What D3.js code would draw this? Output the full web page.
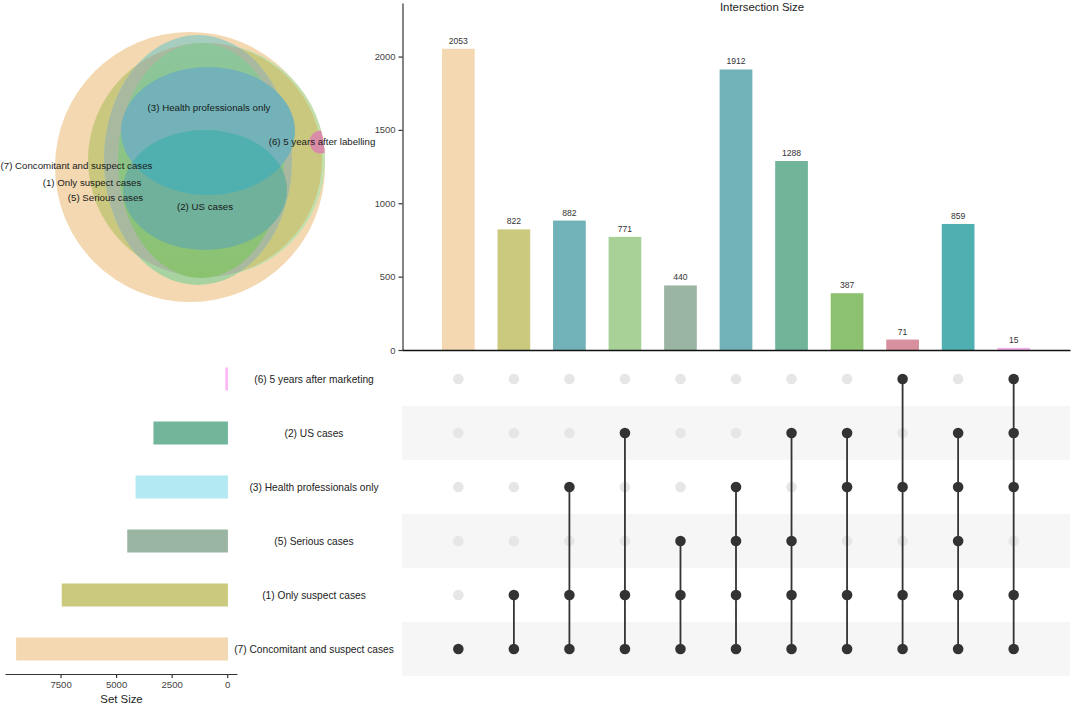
<!DOCTYPE html>
<html>
<head>
<meta charset="utf-8">
<script src="https://cdn.jsdelivr.net/npm/d3@7"></script>
<style>
  html, body { margin: 0; padding: 0; background: #fff; }
  svg { display: block; font-family: "Liberation Sans", Arial, sans-serif; }
</style>
</head>
<body>
<svg id="chart" width="1072" height="706"></svg>
<script>
// ---------------- DATA ----------------
const setKeys   = ["6", "2", "3", "5", "1", "7"];
const setNames  = ["(6) 5 years after marketing", "(2) US cases", "(3) Health professionals only",
                   "(5) Serious cases", "(1) Only suspect cases", "(7) Concomitant and suspect cases"];
const setSizes  = [86, 3320, 4126, 4499, 7447, 9500];
const setColors = ["#ffb6f5", "#71b59b", "#b3eaf2", "#9bb5a3", "#cac97e", "#f3d8b1"];

const intersectionSets = [
  ["7"], ["1","7"], ["3","1","7"], ["2","1","7"], ["5","1","7"], ["3","5","1","7"],
  ["2","5","1","7"], ["2","3","1","7"], ["6","3","1","7"], ["2","3","5","1","7"], ["6","2","3","1","7"]
];
const intersectionSizes  = [2053, 822, 882, 771, 440, 1912, 1288, 387, 71, 859, 15];
const intersectionColors = ["#f3d8b1", "#cac97e", "#70b2b7", "#a8d197", "#9bb5a3", "#70b2b7",
                            "#70b49a", "#8cc26f", "#d9909e", "#50b0b1", "#f5b3ef"];

const yTicks   = [0, 500, 1000, 1500, 2000];
const setTicks = [0, 2500, 5000, 7500];

// Euler diagram labels
const vennLabels = ["(3) Health professionals only", "(6) 5 years after labelling",
                    "(7) Concomitant and suspect cases", "(1) Only suspect cases",
                    "(5) Serious cases", "(2) US cases"];

// ---------------- LAYOUT ----------------
const svg = d3.select("#chart");
const FONT = '"Liberation Sans", Arial, sans-serif';
const fmt = d3.format("d");

// --- Intersection bars
const x = d3.scaleBand().domain(d3.range(intersectionSizes.length))
  .range([402, 1070]).paddingInner(0.411).paddingOuter(0.72);
const y = d3.scaleLinear().domain([0, 2365]).range([350, 3]);

// --- Matrix rows
const row = d3.scaleBand().domain(setKeys).range([352, 676]);

// stripes
svg.append("g").selectAll("rect").data(setKeys.filter((d, i) => i % 2 === 1)).join("rect")
  .attr("x", 402).attr("width", 668)
  .attr("y", d => row(d)).attr("height", row.bandwidth())
  .attr("fill", "#f6f6f6");

const bars = svg.append("g");
bars.selectAll("rect").data(intersectionSizes).join("rect")
  .attr("x", (d, i) => x(i)).attr("width", x.bandwidth())
  .attr("y", d => y(d)).attr("height", d => y(0) - y(d))
  .attr("fill", (d, i) => intersectionColors[i]);
bars.selectAll("text").data(intersectionSizes).join("text")
  .attr("x", (d, i) => x(i) + x.bandwidth() / 2)
  .attr("y", d => y(d) - 5)
  .attr("text-anchor", "middle")
  .attr("font-size", 8.6).attr("fill", "#333")
  .text(d => d);

const yAxis = svg.append("g").attr("transform", "translate(402.5,0)")
  .call(d3.axisLeft(y).tickValues(yTicks).tickFormat(fmt).tickSize(4).tickSizeOuter(0).tickPadding(3));
yAxis.selectAll("text").attr("font-size", 9.4).attr("fill", "#444").attr("font-family", FONT);
yAxis.selectAll("path, line").attr("stroke", "#333").attr("stroke-width", 1.2);

const xAxis = svg.append("g").attr("transform", "translate(0,350)")
  .call(d3.axisBottom(x).tickSize(0).tickSizeOuter(0).tickFormat(""));
xAxis.select("path").attr("stroke", "#111").attr("stroke-width", 1.7);

svg.append("text").attr("x", 762).attr("y", 11)
  .attr("text-anchor", "middle").attr("font-size", 11.4).attr("fill", "#222")
  .text("Intersection Size");

// --- Matrix dots & lines
const mat = svg.append("g");
const gOff = mat.append("g"), gLine = mat.append("g"), gOn = mat.append("g");
intersectionSets.forEach((members, i) => {
  const cx = x(i) + x.bandwidth() / 2;
  const ys = members.map(k => row(k) + row.bandwidth() / 2);
  gLine.append("line")
    .attr("x1", cx).attr("x2", cx)
    .attr("y1", d3.min(ys)).attr("y2", d3.max(ys))
    .attr("stroke", "#333").attr("stroke-width", 1.8);
  setKeys.forEach(k => {
    const on = members.includes(k);
    (on ? gOn : gOff).append("circle")
      .attr("cx", cx).attr("cy", row(k) + row.bandwidth() / 2)
      .attr("r", 5.3)
      .attr("fill", on ? "#333" : "#e6e6e6");
  });
});

// --- Set size bars
const sx = d3.scaleLinear().domain([10000, -440]).range([5, 237]);
const barH = 23;
svg.append("g").selectAll("rect").data(setSizes).join("rect")
  .attr("x", d => sx(d)).attr("width", d => sx(0) - sx(d) + 0.7)
  .attr("y", (d, i) => row(setKeys[i]) + row.bandwidth() / 2 - barH / 2)
  .attr("height", barH)
  .attr("fill", (d, i) => setColors[i]);

const sAxis = svg.append("g").attr("transform", "translate(0,674)")
  .call(d3.axisBottom(sx).tickValues(setTicks).tickFormat(fmt).tickSize(4).tickSizeOuter(0).tickPadding(3));
sAxis.selectAll("text").attr("font-size", 9.6).attr("fill", "#444").attr("font-family", FONT);
sAxis.selectAll("path, line").attr("stroke", "#333").attr("stroke-width", 1.2);

svg.append("text").attr("x", 121.5).attr("y", 703)
  .attr("text-anchor", "middle").attr("font-size", 11.4).attr("fill", "#222")
  .text("Set Size");

// set labels
svg.append("g").selectAll("text").data(setNames).join("text")
  .attr("x", 314).attr("y", (d, i) => row(setKeys[i]) + row.bandwidth() / 2)
  .attr("dy", "0.35em")
  .attr("text-anchor", "middle").attr("font-size", 10.2).attr("fill", "#222")
  .text(d => d);

// --- Euler diagram (layout of shapes)
const defs = svg.append("defs");
const venn = svg.append("g");
const shapes = {
  O: {cx: 190, cy: 167, rx: 135, ry: 135},   // (7)
  H: {cx: 208, cy: 160, rx: 117, ry: 117},
  L: {cx: 205, cy: 160, rx: 117, ry: 117},   // (1)
  E: {cx: 198, cy: 160, rx: 94,  ry: 125},
  F: {cx: 201, cy: 160.5, rx: 83, ry: 117.5},
  B: {cx: 208, cy: 131, rx: 87,  ry: 64},    // (3)
  G: {cx: 205, cy: 190, rx: 82,  ry: 60},    // (2)
  P: {cx: 321, cy: 142, rx: 11.5, ry: 11.5}  // (6)
};
function ell(sel, s) {
  return sel.append("ellipse").attr("cx", s.cx).attr("cy", s.cy).attr("rx", s.rx).attr("ry", s.ry);
}
function clip(id, s) {
  ell(defs.append("clipPath").attr("id", id), s);
}
clip("clipE", shapes.E);
clip("clipG", shapes.G);
clip("clipH", shapes.H);

function grad(id, c1, c2) {
  const g = defs.append("linearGradient").attr("id", id)
    .attr("x1", 0).attr("y1", 0).attr("x2", 0).attr("y2", 1);
  g.append("stop").attr("offset", "0%").attr("stop-color", c1);
  g.append("stop").attr("offset", "100%").attr("stop-color", c2);
}
grad("gE", "#a6cdbf", "#a8d3a0");
grad("gF", "#8dc69c", "#8bc26f");

ell(venn, shapes.O).attr("fill", "#f3d8b1");
ell(venn, shapes.H).attr("fill", "#c4dfae");
ell(venn, shapes.L).attr("fill", "#cac87e");
ell(venn, shapes.E).attr("fill", "url(#gE)");
ell(venn, shapes.L).attr("fill", "#a9b9a0").attr("clip-path", "url(#clipE)");
ell(venn, shapes.F).attr("fill", "url(#gF)");
ell(venn, shapes.B).attr("fill", "#72b2b8");
ell(venn, shapes.G).attr("fill", "#6fb19b");
ell(venn, shapes.B).attr("fill", "#50b0b0").attr("clip-path", "url(#clipG)");
ell(venn, shapes.P).attr("fill", "#d98ca8").attr("clip-path", "url(#clipH)");

const labelPos = [[209, 108], [322, 142], [76.5, 166], [92, 183], [105.5, 198], [205, 207]];
venn.selectAll("text").data(vennLabels).join("text")
  .attr("x", (d, i) => labelPos[i][0]).attr("y", (d, i) => labelPos[i][1])
  .attr("dy", "0.35em")
  .attr("text-anchor", "middle").attr("font-size", 9.7).attr("fill", "#1a1a1a")
  .text(d => d);
</script>
</body>
</html>
